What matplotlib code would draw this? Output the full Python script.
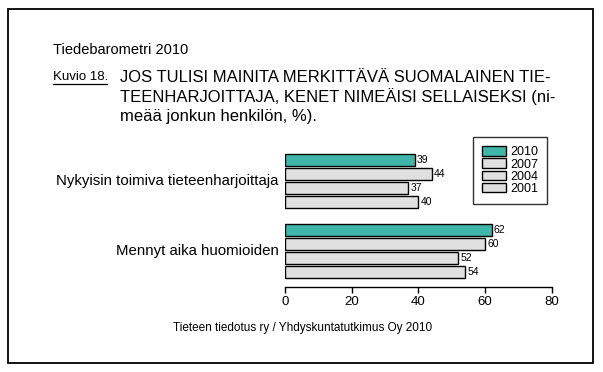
import matplotlib
matplotlib.use("Agg")
import matplotlib.pyplot as plt
from matplotlib.patches import Rectangle, Patch

plt.rcParams['font.family'] = ['Liberation Sans', 'DejaVu Sans']

# data
categories = ["Nykyisin toimiva tieteenharjoittaja", "Mennyt aika huomioiden"]
years = ["2010", "2007", "2004", "2001"]
values = {
    "2010": [39, 62],
    "2007": [44, 60],
    "2004": [37, 52],
    "2001": [40, 54],
}
colors = {"2010": "#40b5aa", "2007": "#e0e0e0", "2004": "#e0e0e0", "2001": "#e0e0e0"}
xticks = [0, 20, 40, 60, 80]

fig = plt.figure(figsize=(6.03, 3.72), dpi=100)

# outer frame
fig.add_artist(Rectangle((8 / 603, 1 - 363 / 372), 585 / 603, 354 / 372,
                         transform=fig.transFigure, fill=False, lw=1.3, ec="black"))

fig.text(53 / 603, 1 - 50 / 372, "Tiedebarometri 2010", fontsize=10.5, va="center")
fig.text(53 / 603, 1 - 77 / 372, "Kuvio 18.", fontsize=9.5, va="center")
fig.add_artist(plt.Line2D([53 / 603, 107 / 603], [1 - 84 / 372, 1 - 84 / 372],
                          transform=fig.transFigure, color="black", lw=0.9))
title_lines = ["JOS TULISI MAINITA MERKITTÄVÄ SUOMALAINEN TIE-",
               "TEENHARJOITTAJA, KENET NIMEÄISI SELLAISEKSI (ni-",
               "meää jonkun henkilön, %)."]
for i, line in enumerate(title_lines):
    fig.text(120 / 603, 1 - (77 + i * 19.5) / 372, line, fontsize=12, va="center")

fig.text(303 / 603, 1 - 328 / 372, "Tieteen tiedotus ry / Yhdyskuntatutkimus Oy 2010",
         fontsize=8.5, ha="center", va="center")

ax = fig.add_axes([0.4731, 0.2293, 0.4418, 0.3774])

for gi, cat in enumerate(categories):
    for yi, yr in enumerate(years):
        y = gi * 5 + yi
        v = values[yr][gi]
        ax.barh(y, v, height=0.84, color=colors[yr], edgecolor="black", linewidth=1.0)
        ax.text(v + 0.6, y, str(v), fontsize=7.5, va="center", ha="left")
    ax.text(-2, gi * 5 + 1.5, cat, fontsize=10.8, ha="right", va="center")

ax.set_xlim(0, 80)
ax.set_ylim(9.03, -1.0)
ax.set_xticks(xticks)
ax.tick_params(axis="x", labelsize=9.5, length=4, width=1, pad=3)
ax.set_yticks([])
for s in ["left", "right", "top"]:
    ax.spines[s].set_visible(False)
ax.spines["bottom"].set_linewidth(1.0)
ax.patch.set_alpha(0)

handles = [Patch(facecolor=colors[yr], edgecolor="black", linewidth=1.0, label=yr) for yr in years]
leg = fig.legend(handles=handles, loc="upper left",
                 bbox_to_anchor=(473 / 603, 1 - 202 / 372, 74 / 603, 65 / 372),
                 mode="expand", fontsize=9, frameon=True, fancybox=False,
                 handlelength=1.85, handleheight=0.8, labelspacing=0.0,
                 handletextpad=0.4, borderpad=0.75, borderaxespad=0)
leg.get_frame().set_edgecolor("black")
leg.get_frame().set_linewidth(1.0)

fig.savefig("out.png", dpi=100)
